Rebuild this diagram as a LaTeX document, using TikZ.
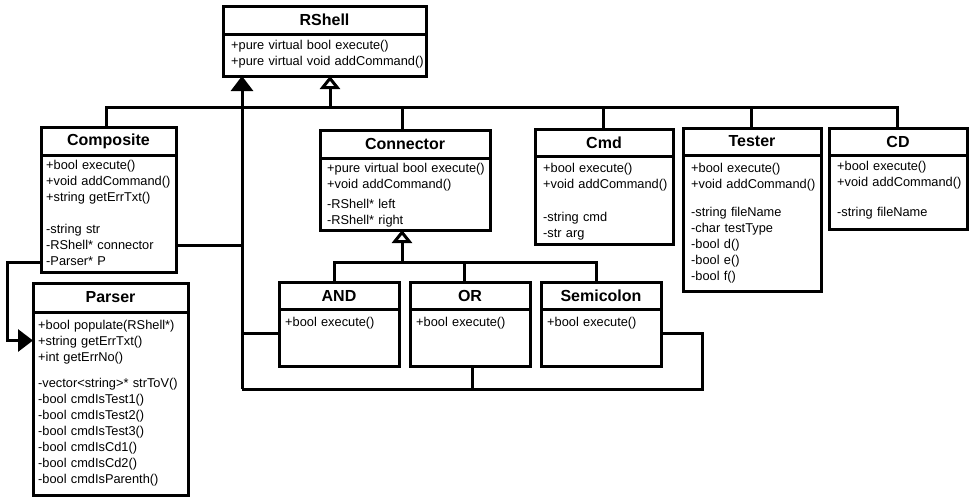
\documentclass[tikz,border=0pt]{standalone}
\usepackage{fontspec}
\setmainfont{Liberation Sans}
\usetikzlibrary{arrows.meta}

\tikzset{
	classtitle/.style={rectangle, draw, line width=3pt, anchor=north west, inner sep=0pt, outer sep=0pt, font=\fontsize{16}{19}\selectfont\bfseries},
	classbody/.style={rectangle, draw, line width=3pt, anchor=north west, inner sep=0pt, outer sep=0pt},
	members/.style={anchor=base west, inner sep=0pt, text width=240pt, align=left, font=\fontsize{12.8}{16}\selectfont},
	link/.style={line width=3pt},
	inherit/.style={link, -{Triangle[open, length=13pt, width=20pt, fill=white]}},
	compose/.style={link, -{Triangle[length=15pt, width=22pt]}}
}

\begin{document}
\begin{tikzpicture}[x=1pt, y=-1pt]
		\useasboundingbox (0, 0) rectangle (975, 499);

		\draw
		(223, 6) node [classtitle, minimum width=203pt, minimum height=28pt] (RShell) {RShell}
		(223, 34) node [classbody, minimum width=203pt, minimum height=42pt] (RShellBody) {}
		(231, 49.5) node [members] (RShellText) {+pure virtual bool execute()\\+pure virtual void addCommand()};

		\draw
		(41, 127) node [classtitle, minimum width=135pt, minimum height=28pt] (Composite) {Composite}
		(41, 155) node [classbody, minimum width=135pt, minimum height=117pt] (CompositeBody) {}
		(46, 169.5) node [members] (CompositeText) {+bool execute()\\+void addCommand()\\+string getErrTxt()\\[16pt]-string str\\-RShell* connector\\-Parser* P};

		\draw
		(320, 130) node [classtitle, minimum width=170pt, minimum height=28pt] (Connector) {Connector}
		(320, 158) node [classbody, minimum width=170pt, minimum height=72pt] (ConnectorBody) {}
		(327, 172.5) node [members] (ConnectorText) {+pure virtual bool execute()\\+void addCommand()\\[4pt]-RShell* left\\-RShell* right};

		\draw
		(535, 129) node [classtitle, minimum width=138pt, minimum height=27pt] (Cmd) {Cmd}
		(535, 156) node [classbody, minimum width=138pt, minimum height=88pt] (CmdBody) {}
		(543, 172.5) node [members] (CmdText) {+bool execute()\\+void addCommand()\\[17pt]-string cmd\\-str arg};

		\draw
		(683, 128) node [classtitle, minimum width=138pt, minimum height=27pt] (Tester) {Tester}
		(683, 155) node [classbody, minimum width=138pt, minimum height=136pt] (TesterBody) {}
		(691, 172.5) node [members] (TesterText) {+bool execute()\\+void addCommand()\\[12pt]-string fileName\\-char testType\\-bool d()\\-bool e()\\-bool f()};

		\draw
		(829, 128) node [classtitle, minimum width=138pt, minimum height=27pt] (CD) {CD}
		(829, 155) node [classbody, minimum width=138pt, minimum height=74pt] (CDBody) {}
		(837, 170.5) node [members] (CDText) {+bool execute()\\+void addCommand()\\[14pt]-string fileName};

		\draw
		(33, 283) node [classtitle, minimum width=155pt, minimum height=29pt] (Parser) {Parser}
		(33, 312) node [classbody, minimum width=155pt, minimum height=183pt] (ParserBody) {}
		(38, 329.5) node [members] (ParserText) {+bool populate(RShell*)\\+string getErrTxt()\\+int getErrNo()\\[10pt]-vector<string>* strToV()\\-bool cmdIsTest1()\\-bool cmdIsTest2()\\-bool cmdIsTest3()\\-bool cmdIsCd1()\\-bool cmdIsCd2()\\-bool cmdIsParenth()};

		\draw
		(279, 282) node [classtitle, minimum width=120pt, minimum height=27pt] (AND) {AND}
		(279, 309) node [classbody, minimum width=120pt, minimum height=57pt] (ANDBody) {}
		(285, 326.5) node [members] (ANDText) {+bool execute()}
		(410, 282) node [classtitle, minimum width=120pt, minimum height=27pt] (OR) {OR}
		(410, 309) node [classbody, minimum width=120pt, minimum height=57pt] (ORBody) {}
		(416, 326.5) node [members] (ORText) {+bool execute()}
		(541, 282) node [classtitle, minimum width=120pt, minimum height=27pt] (Semicolon) {Semicolon}
		(541, 309) node [classbody, minimum width=120pt, minimum height=57pt] (SemicolonBody) {}
		(547, 326.5) node [members] (SemicolonText) {+bool execute()};

		% inheritance from RShell
		\coordinate (bus) at (330, 107);
		\draw[link] ([xshift=-2pt]Composite.north) |- (bus) -| ([xshift=-1pt]CD.north);
		\draw[link] ([xshift=-3pt]Connector.north) -- ([xshift=-3pt]Connector.north |- bus);
		\draw[link] ([xshift=-1pt]Cmd.north) -- ([xshift=-1pt]Cmd.north |- bus);
		\draw[link] ([xshift=-1pt]Tester.north) -- ([xshift=-1pt]Tester.north |- bus);
		\draw[inherit] (bus) -- (bus |- RShellBody.south);

		% inheritance from Connector
		\coordinate (subbus) at (402, 262);
		\draw[link] ([xshift=-5pt]AND.north) |- (subbus) -| ([xshift=-5pt]Semicolon.north);
		\draw[link] ([xshift=-6pt]OR.north) -- ([xshift=-6pt]OR.north |- subbus);
		\draw[inherit] (subbus) -- (subbus |- ConnectorBody.south);

		% RShell pointers
		\coordinate (hub) at (242, 389);
		\coordinate (loopR) at (702, 389);
		\draw[link] ([yshift=-31.5pt]CompositeBody.east) -| (hub);
		\draw[link] ([yshift=4.5pt]ANDBody.west) -| (hub);
		\draw[link] ([yshift=4.5pt]SemicolonBody.east) -| (loopR) -- (hub);
		\draw[link] ([xshift=2pt]ORBody.south) -- ([xshift=2pt]ORBody.south |- hub);
		\draw[compose] (hub) -- (hub |- RShellBody.south);

		% Parser pointer
		\draw[compose] ([yshift=-48.5pt]CompositeBody.west) -- ++(-34, 0) |- ([yshift=63pt]ParserBody.west);
	\end{tikzpicture}
\end{document}
